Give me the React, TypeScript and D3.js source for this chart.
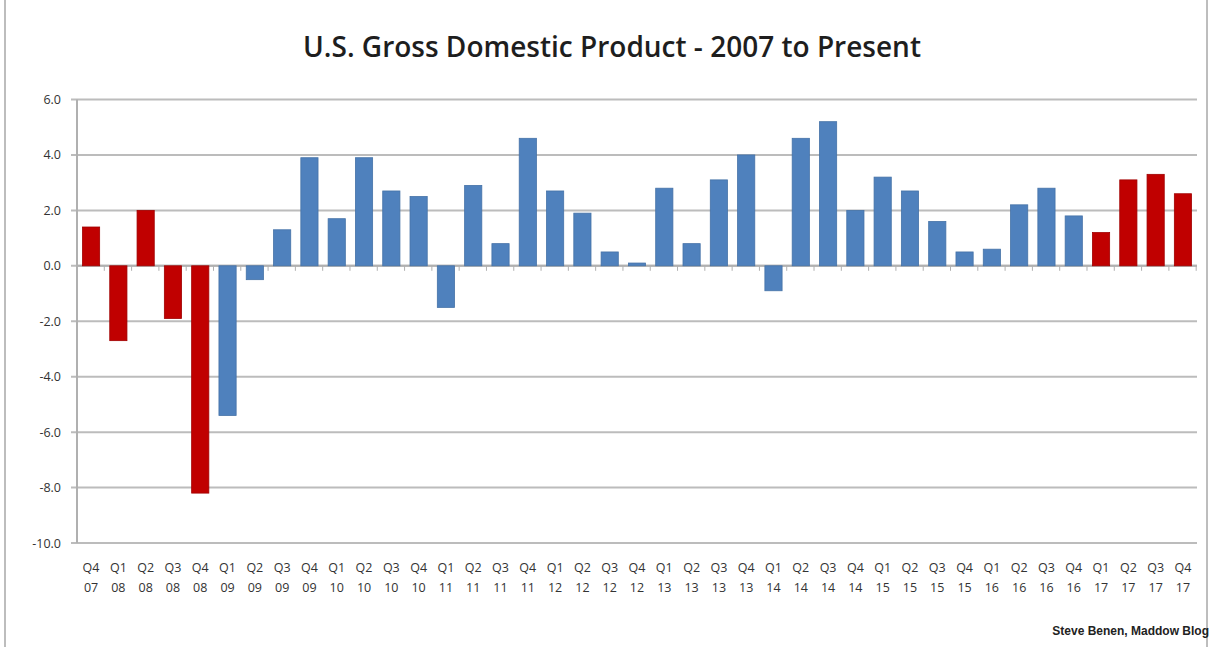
import React from "react";
import * as d3 from "d3";

const quarters = ["Q4","Q1","Q2","Q3","Q4","Q1","Q2","Q3","Q4","Q1","Q2","Q3","Q4","Q1","Q2","Q3","Q4","Q1","Q2","Q3","Q4","Q1","Q2","Q3","Q4","Q1","Q2","Q3","Q4","Q1","Q2","Q3","Q4","Q1","Q2","Q3","Q4","Q1","Q2","Q3","Q4"];
const years = ["07","08","08","08","08","09","09","09","09","10","10","10","10","11","11","11","11","12","12","12","12","13","13","13","13","14","14","14","14","15","15","15","15","16","16","16","16","17","17","17","17"];
const gdpGrowth = [1.4,-2.7,2.0,-1.9,-8.2,-5.4,-0.5,1.3,3.9,1.7,3.9,2.7,2.5,-1.5,2.9,0.8,4.6,2.7,1.9,0.5,0.1,2.8,0.8,3.1,4.0,-0.9,4.6,5.2,2.0,3.2,2.7,1.6,0.5,0.6,2.2,2.8,1.8,1.2,3.1,3.3,2.6];
const republican = [true,true,true,true,true,false,false,false,false,false,false,false,false,false,false,false,false,false,false,false,false,false,false,false,false,false,false,false,false,false,false,false,false,false,false,false,false,true,true,true,true];
const yTicks = [6,4,2,0,-2,-4,-6,-8,-10];

const W = 1214, H = 647;
const left = 77, right = 1197, top = 99.5, bottom = 543;

export default function App() {
  const keys = quarters.map((q, i) => `${q} ${years[i]} ${i}`);
  const x = d3.scaleBand<string>().domain(keys).range([left, right]).paddingInner(0.37).paddingOuter(0.2);
  const y = d3.scaleLinear().domain([-10, 6]).range([bottom, top]);
  const step = x.step();
  const font = "'Open Sans', 'DejaVu Sans', sans-serif";
  return (
    <svg width={W} height={H} style={{ position: "absolute", left: 0, top: 0, background: "#fff" }}>
      <rect x={5} y={-2} width={1202} height={H + 10} fill="#fff" stroke="#a8a8a8" strokeWidth={1.5} />
      <text x={612} y={57} textAnchor="middle" fontFamily={font} fontWeight={600} fontSize={28} fill="#1e1e1e">
        U.S. Gross Domestic Product - 2007 to Present
      </text>
      {yTicks.map((t) => (
        <g key={t}>
          <line x1={left - 6} x2={right} y1={y(t)} y2={y(t)} stroke="#bcbcbc" strokeWidth={2} />
          <text x={61} y={y(t) + 4.5} textAnchor="end" fontFamily={font} fontSize={12.5} fill="#333">
            {t.toFixed(1)}
          </text>
        </g>
      ))}
      <line x1={left} x2={left} y1={top} y2={bottom} stroke="#b0b0b0" strokeWidth={2} />
      {keys.map((k, i) => (
        <line key={"t" + i} x1={left + step * (i + 1)} x2={left + step * (i + 1)} y1={y(0)} y2={y(0) + 5} stroke="#b0b0b0" strokeWidth={1} />
      ))}
      <line x1={left} x2={right} y1={y(0)} y2={y(0)} stroke="#b0b0b0" strokeWidth={2} />
      {gdpGrowth.map((v, i) => {
        const y0 = y(0), y1 = y(v);
        return (
          <rect key={i} x={x(keys[i])} width={x.bandwidth()} y={Math.min(y0, y1)} height={Math.abs(y1 - y0)}
            fill={republican[i] ? "#c00000" : "#4f81bd"} stroke={republican[i] ? "#a00000" : "#4572a7"} strokeWidth={0.8} />
        );
      })}
      {keys.map((k, i) => {
        const cx = (x(k) as number) + x.bandwidth() / 2;
        return (
          <text key={"l" + i} textAnchor="middle" fontFamily={font} fontSize={12.5} fill="#333">
            <tspan x={cx} y={572}>{quarters[i]}</tspan>
            <tspan x={cx} y={592}>{years[i]}</tspan>
          </text>
        );
      })}
      <text x={1209} y={635} textAnchor="end" fontFamily="'Liberation Sans', Arial, sans-serif" fontWeight={700} fontSize={12} fill="#222">
        Steve Benen, Maddow Blog
      </text>
    </svg>
  );
}
